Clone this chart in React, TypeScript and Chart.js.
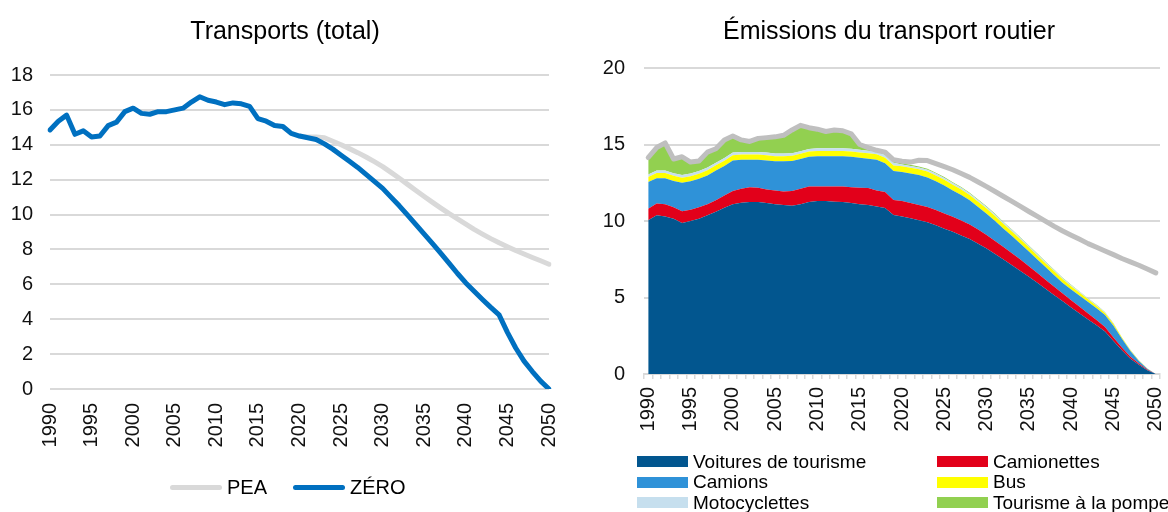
import React, { useEffect, useRef } from "react";
import { Chart, registerables } from "chart.js";

Chart.register(...registerables);

const FONT = '"Liberation Sans", Arial, sans-serif';

// Categories
const years: string[] = Array.from({ length: 61 }, (_, i) => String(1990 + i));

// ---------- Left chart: Transports (total) ----------
const zeroTotal: number[] = [
  14.85, 15.35, 15.7, 14.6, 14.8, 14.45, 14.5, 15.1, 15.3, 15.9,
  16.1, 15.8, 15.75, 15.9, 15.9, 16.0, 16.1, 16.45, 16.75, 16.55,
  16.45, 16.3, 16.4, 16.35, 16.2, 15.5, 15.35, 15.1, 15.05, 14.65,
  14.5, 14.4, 14.3, 14.05, 13.75, 13.4, 13.05, 12.7, 12.3, 11.9,
  11.5, 11.0, 10.5, 9.97, 9.42, 8.88, 8.33, 7.77, 7.2, 6.62,
  6.08, 5.6, 5.13, 4.68, 4.25, 3.25, 2.35, 1.6, 1.0, 0.45,
  0,
];

const peaTotal: (number | null)[] = [
  null, null, null, null, null, null, null, null, null, null,
  null, null, null, null, null, null, null, null, null, null,
  null, null, null, null, null, null, null, null, null, null,
  14.5, 14.45, 14.45, 14.4, 14.2, 14.0, 13.78, 13.55, 13.3, 13.03,
  12.75, 12.42, 12.08, 11.73, 11.38, 11.04, 10.7, 10.37, 10.05, 9.75,
  9.45, 9.15, 8.88, 8.62, 8.38, 8.16, 7.94, 7.74, 7.54, 7.35,
  7.15,
];

const leftTicks: number[] = [0, 2, 4, 6, 8, 10, 12, 14, 16, 18];

// ---------- Right chart: Émissions du transport routier ----------
const voitures: number[] = [
  10.05, 10.37, 10.3, 10.15, 9.87, 10.0, 10.15, 10.37, 10.6, 10.87,
  11.09, 11.2, 11.24, 11.24, 11.17, 11.1, 11.05, 11.0, 11.1, 11.24,
  11.3, 11.3, 11.26, 11.24, 11.17, 11.09, 11.05, 10.95, 10.85, 10.4,
  10.3, 10.18, 10.05, 9.92, 9.72, 9.5, 9.3, 9.06, 8.82, 8.52,
  8.2, 7.85, 7.48, 7.11, 6.74, 6.35, 5.96, 5.55, 5.15, 4.75,
  4.35, 3.96, 3.57, 3.18, 2.78, 2.15, 1.55, 1.0, 0.6, 0.25,
  0,
];

const camionettes: number[] = [
  0.75, 0.78, 0.8, 0.75, 0.76, 0.73, 0.75, 0.73, 0.75, 0.8,
  0.87, 0.9, 0.96, 0.93, 0.89, 0.9, 0.88, 0.96, 1.0, 1.02,
  0.96, 0.96, 1.0, 1.02, 1.03, 1.08, 1.1, 1.05, 1.05, 0.97,
  1.0, 1.0, 1.0, 1.0, 1.0, 0.99, 0.98, 0.97, 0.95, 0.92,
  0.88, 0.85, 0.82, 0.78, 0.74, 0.69, 0.64, 0.6, 0.55, 0.51,
  0.47, 0.43, 0.39, 0.35, 0.3, 0.24, 0.18, 0.13, 0.08, 0.04,
  0,
];

const camions: number[] = [
  1.75, 1.65, 1.7, 1.72, 1.87, 1.87, 1.86, 1.88, 1.95, 1.93,
  2.0, 1.9, 1.8, 1.83, 1.9, 1.9, 1.97, 1.96, 1.95, 1.94,
  1.98, 1.98, 1.98, 1.98, 2.0, 1.96, 1.92, 2.0, 1.88, 1.89,
  1.9, 1.92, 1.95, 1.93, 1.88, 1.83, 1.72, 1.67, 1.58, 1.48,
  1.4, 1.3, 1.2, 1.13, 1.04, 0.96, 0.88, 0.82, 0.76, 0.69,
  0.7, 0.72, 0.74, 0.76, 0.77, 0.76, 0.57, 0.37, 0.17, 0.06,
  0,
];

const bus: number[] = [
  0.32, 0.33, 0.33, 0.33, 0.33, 0.33, 0.33, 0.34, 0.34, 0.34,
  0.34, 0.34, 0.34, 0.34, 0.34, 0.34, 0.34, 0.34, 0.34, 0.34,
  0.34, 0.34, 0.34, 0.34, 0.35, 0.35, 0.35, 0.36, 0.36, 0.37,
  0.38, 0.38, 0.38, 0.38, 0.38, 0.38, 0.37, 0.36, 0.35, 0.34,
  0.33, 0.32, 0.31, 0.3, 0.29, 0.28, 0.27, 0.26, 0.25, 0.24,
  0.22, 0.2, 0.18, 0.16, 0.14, 0.11, 0.08, 0.05, 0.03, 0.01,
  0,
];

const motocyclettes: number[] = [
  0.17, 0.17, 0.17, 0.17, 0.17, 0.17, 0.17, 0.17, 0.17, 0.17,
  0.17, 0.17, 0.17, 0.17, 0.17, 0.17, 0.17, 0.17, 0.17, 0.17,
  0.17, 0.17, 0.17, 0.17, 0.17, 0.17, 0.17, 0.17, 0.17, 0.17,
  0.12, 0.12, 0.12, 0.12, 0.12, 0.11, 0.11, 0.11, 0.1, 0.1,
  0.1, 0.1, 0.09, 0.09, 0.09, 0.08, 0.08, 0.08, 0.07, 0.07,
  0.06, 0.06, 0.05, 0.05, 0.04, 0.03, 0.02, 0.02, 0.01, 0.01,
  0,
];

const tourismePompe: number[] = [
  1.11, 1.5, 1.8, 0.93, 1.2, 0.75, 0.66, 1.01, 0.91, 1.19,
  1.08, 0.79, 0.69, 0.89, 0.98, 1.09, 1.19, 1.52, 1.69, 1.39,
  1.25, 1.1, 1.2, 1.15, 0.98, 0.35, 0.21, 0.09, 0.19, 0.2,
  0.08, 0.07, 0.07, 0.07, 0.06, 0.06, 0.06, 0.06, 0.05, 0.05,
  0.05, 0.05, 0.04, 0.04, 0.04, 0.04, 0.04, 0.03, 0.03, 0.03,
  0.03, 0.03, 0.02, 0.02, 0.02, 0.02, 0.01, 0.01, 0.01, 0.0,
  0,
];

const peaRoad: number[] = [
  14.15, 14.8, 15.1, 14.05, 14.2, 13.85, 13.92, 14.5, 14.72, 15.3,
  15.55, 15.3, 15.2, 15.4, 15.45, 15.5, 15.6, 15.95, 16.25, 16.1,
  16.0, 15.85, 15.95, 15.9, 15.7, 15.0, 14.8, 14.62, 14.5, 14.0,
  13.9, 13.85, 13.97, 13.95, 13.75, 13.55, 13.35, 13.1, 12.85, 12.55,
  12.25, 11.93, 11.6, 11.28, 10.95, 10.62, 10.3, 9.97, 9.65, 9.35,
  9.07, 8.8, 8.52, 8.28, 8.04, 7.8, 7.55, 7.33, 7.11, 6.86,
  6.61,
];

const rightTicks: number[] = [0, 5, 10, 15, 20];

const roadSeries = [
  { label: "Voitures de tourisme", data: voitures, color: "#02568F" },
  { label: "Camionettes", data: camionettes, color: "#E2001A" },
  { label: "Camions", data: camions, color: "#2F92D8" },
  { label: "Bus", data: bus, color: "#FFFF00" },
  { label: "Motocyclettes", data: motocyclettes, color: "#C6DFEE" },
  { label: "Tourisme à la pompe", data: tourismePompe, color: "#92D050" },
];

const TICK_COLOR = "#111";
const GRID = "#D9D9D9";

export default function App() {
  const leftRef = useRef<HTMLCanvasElement | null>(null);
  const rightRef = useRef<HTMLCanvasElement | null>(null);

  useEffect(() => {
    const left = new Chart(leftRef.current as HTMLCanvasElement, {
      type: "line",
      data: {
        labels: years,
        datasets: [
          {
            label: "PEA",
            data: peaTotal,
            borderColor: "#D9D9D9",
            backgroundColor: "#D9D9D9",
            borderWidth: 5,
            pointRadius: 0,
            tension: 0,
            order: 1,
            borderCapStyle: "round",
            borderJoinStyle: "round",
          },
          {
            label: "ZÉRO",
            data: zeroTotal,
            borderColor: "#0070C0",
            backgroundColor: "#0070C0",
            borderWidth: 5,
            pointRadius: 0,
            tension: 0,
            order: 0,
            borderCapStyle: "round",
            borderJoinStyle: "round",
          },
        ],
      } as any,
      options: {
        responsive: false,
        animation: false,
        events: [],
        layout: { padding: { top: 75, left: 0, right: 51, bottom: 63 } },
        plugins: {
          legend: { display: false },
          title: { display: false },
          tooltip: { enabled: false },
        },
        scales: {
          x: {
            ticks: {
              autoSkip: false,
              maxRotation: 90,
              minRotation: 90,
              padding: 14,
              color: TICK_COLOR,
              font: { family: FONT, size: 20 },
              callback: (_v: any, i: number) => (i % 5 === 0 ? years[i] : ""),
            },
            grid: { display: false, drawTicks: false },
            border: { display: false },
            afterFit: (s: any) => {
              s.height = 60;
            },
          },
          y: {
            min: leftTicks[0],
            max: leftTicks[leftTicks.length - 1],
            afterBuildTicks: (s: any) => {
              s.ticks = leftTicks.map((v) => ({ value: v }));
            },
            ticks: {
              padding: 17,
              color: TICK_COLOR,
              font: { family: FONT, size: 20 },
            },
            grid: { color: GRID, lineWidth: 2, drawTicks: false },
            border: { display: false },
            afterFit: (s: any) => {
              s.width = 50;
            },
          },
        },
      } as any,
    });

    const datasets: any[] = roadSeries.map((s, i) => ({
      label: s.label,
      data: s.data,
      backgroundColor: s.color,
      borderColor: "rgba(0,0,0,0)",
      borderWidth: 0,
      pointRadius: 0,
      tension: 0,
      fill: i === 0 ? "origin" : "-1",
    }));
    datasets.push({
      label: "PEA",
      data: peaRoad,
      borderColor: "#BFBFBF",
      backgroundColor: "#BFBFBF",
      borderWidth: 5,
      pointRadius: 0,
      tension: 0,
      fill: false,
      stack: "pea",
      order: -1,
      borderCapStyle: "round",
      borderJoinStyle: "round",
    });

    const right = new Chart(rightRef.current as HTMLCanvasElement, {
      type: "line",
      data: { labels: years, datasets },
      options: {
        responsive: false,
        animation: false,
        events: [],
        layout: { padding: { top: 68, left: 0, right: 40, bottom: 68 } },
        plugins: {
          legend: { display: false },
          title: { display: false },
          tooltip: { enabled: false },
        },
        scales: {
          x: {
            offset: true,
            ticks: {
              autoSkip: false,
              maxRotation: 90,
              minRotation: 90,
              padding: 8,
              color: TICK_COLOR,
              font: { family: FONT, size: 20 },
              callback: (_v: any, i: number) => (i % 5 === 0 ? years[i] : ""),
            },
            grid: {
              offset: true,
              drawOnChartArea: false,
              drawTicks: true,
              tickLength: 5,
              color: GRID,
              lineWidth: 1.5,
            },
            border: { display: true, color: GRID, width: 2 },
            afterFit: (s: any) => {
              s.height = 70;
            },
          },
          y: {
            stacked: true,
            min: rightTicks[0],
            max: rightTicks[rightTicks.length - 1],
            afterBuildTicks: (s: any) => {
              s.ticks = rightTicks.map((v) => ({ value: v }));
            },
            ticks: {
              padding: 19,
              color: TICK_COLOR,
              font: { family: FONT, size: 20 },
            },
            grid: { color: GRID, lineWidth: 2, drawTicks: false },
            border: { display: false },
            afterFit: (s: any) => {
              s.width = 64;
            },
          },
        },
      } as any,
    });

    return () => {
      left.destroy();
      right.destroy();
    };
  }, []);

  const text: React.CSSProperties = {
    position: "absolute",
    fontFamily: FONT,
    color: "#000",
    whiteSpace: "nowrap",
  };

  const legendRows = [461.5, 482, 502.5];
  const legendCols = [637, 937];

  return (
    <div
      style={{
        position: "fixed",
        left: 0,
        top: 0,
        width: 1168,
        height: 512,
        overflow: "hidden",
        background: "#fff",
      }}
    >
      <canvas
        ref={leftRef}
        width={600}
        height={512}
        style={{ position: "absolute", left: 0, top: 0 }}
      />
      <canvas
        ref={rightRef}
        width={620}
        height={512}
        style={{ position: "absolute", left: 580, top: 0 }}
      />

      <div style={{ ...text, left: 0, width: 570, top: 15, fontSize: 25, lineHeight: "30px", textAlign: "center" }}>
        Transports (total)
      </div>
      <div style={{ ...text, left: 610, width: 558, top: 15, fontSize: 25, lineHeight: "30px", textAlign: "center" }}>
        Émissions du transport routier
      </div>

      {/* Left legend */}
      <div style={{ position: "absolute", left: 170, top: 484.5, width: 52, height: 5, borderRadius: 3, background: "#D9D9D9" }} />
      <div style={{ ...text, left: 227, top: 475, fontSize: 20, lineHeight: "24px" }}>PEA</div>
      <div style={{ position: "absolute", left: 293, top: 484.5, width: 52, height: 5, borderRadius: 3, background: "#0070C0" }} />
      <div style={{ ...text, left: 350, top: 475, fontSize: 20, lineHeight: "24px" }}>ZÉRO</div>

      {/* Right legend */}
      {roadSeries.map((s, i) => {
        const col = i % 2;
        const row = Math.floor(i / 2);
        const cy = legendRows[row];
        const bx = legendCols[col];
        return (
          <React.Fragment key={s.label}>
            <div style={{ position: "absolute", left: bx, top: cy - 5.5, width: 51, height: 11, background: s.color }} />
            <div style={{ ...text, left: bx + 56, top: cy - 11, fontSize: 19, lineHeight: "22px" }}>{s.label}</div>
          </React.Fragment>
        );
      })}
    </div>
  );
}
